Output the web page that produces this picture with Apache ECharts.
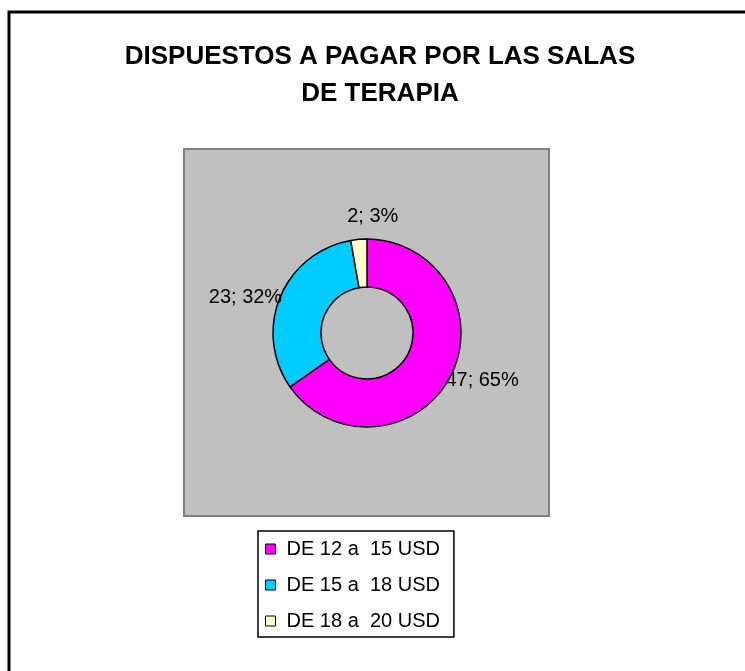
<!DOCTYPE html>
<html lang="es">
<head>
    <meta charset="UTF-8">
    <script type="text/javascript" src="https://cdn.jsdelivr.net/npm/echarts@6/dist/echarts.min.js"></script>
    <title>Salas de terapia</title>
    <style>
        html, body { margin: 0; padding: 0; background: #fff; }
    </style>
</head>
<body>
<div id="pieChart" style="width: 745px;height:671px;"></div>
<script type="text/javascript">
    // datos del grafico
    var categorias = ['DE 12 a  15 USD', 'DE 15 a  18 USD', 'DE 18 a  20 USD'];
    var valores = [47, 23, 2];
    var colores = ['#ff00ff', '#00ccff', '#ffffcc'];

    var pieChart = echarts.init(document.getElementById('pieChart'));

    var datos = categorias.map(function (nombre, i) {
        return { name: nombre, value: valores[i], itemStyle: { color: colores[i] } };
    });

    pieChart.setOption({
        animation: false,
        textStyle: { fontFamily: 'Liberation Sans, Arial, sans-serif' },
        title: {
            text: 'DISPUESTOS A PAGAR POR LAS SALAS\nDE TERAPIA',
            left: 380,
            top: 38,
            padding: 0,
            textAlign: 'center',
            textStyle: {
                fontSize: 26,
                fontWeight: 'bold',
                color: '#000',
                lineHeight: 37
            }
        },
        graphic: [
            {
                // marco exterior
                type: 'rect',
                z: -10,
                shape: { x: 9, y: 12, width: 780, height: 720 },
                style: { fill: '#fff', stroke: '#000', lineWidth: 3 }
            },
            {
                // area de trazado gris
                type: 'rect',
                z: -5,
                shape: { x: 184, y: 149, width: 365, height: 367 },
                style: { fill: '#c0c0c0', stroke: '#808080', lineWidth: 2 }
            }
        ],
        legend: {
            orient: 'vertical',
            left: 258,
            top: 531,
            data: categorias,
            icon: 'rect',
            itemWidth: 10,
            itemHeight: 10,
            itemGap: 16,
            padding: [8, 14, 6, 7],
            borderColor: '#000',
            borderWidth: 1.5,
            backgroundColor: '#fff',
            itemStyle: { borderColor: '#000', borderWidth: 1 },
            textStyle: {
                fontSize: 20,
                lineHeight: 20,
                color: '#000',
                padding: [0, 0, 0, 6]
            }
        },
        series: [{
            type: 'pie',
            center: [367, 333],
            radius: [46, 94],
            startAngle: 90,
            clockwise: true,
            percentPrecision: 0,
            avoidLabelOverlap: false,
            itemStyle: { borderColor: '#000', borderWidth: 1.5 },
            label: {
                show: true,
                position: 'outside',
                formatter: '{c}; {d}%',
                fontSize: 20,
                color: '#000',
                distanceToLabelLine: 0
            },
            labelLine: { show: false, length: 0, length2: 0 },
            labelLayout: function (params) {
                if (params.dataIndex === 0) {
                    return { dx: -5, dy: 4 };
                }
                if (params.dataIndex === 2) {
                    // la etiqueta pequeña va centrada encima
                    return { dx: 14 + params.labelRect.width / 2, dy: -23 };
                }
                return { dx: 2 };
            },
            emphasis: { disabled: true },
            data: datos
        }]
    });
</script>
</body>
</html>
